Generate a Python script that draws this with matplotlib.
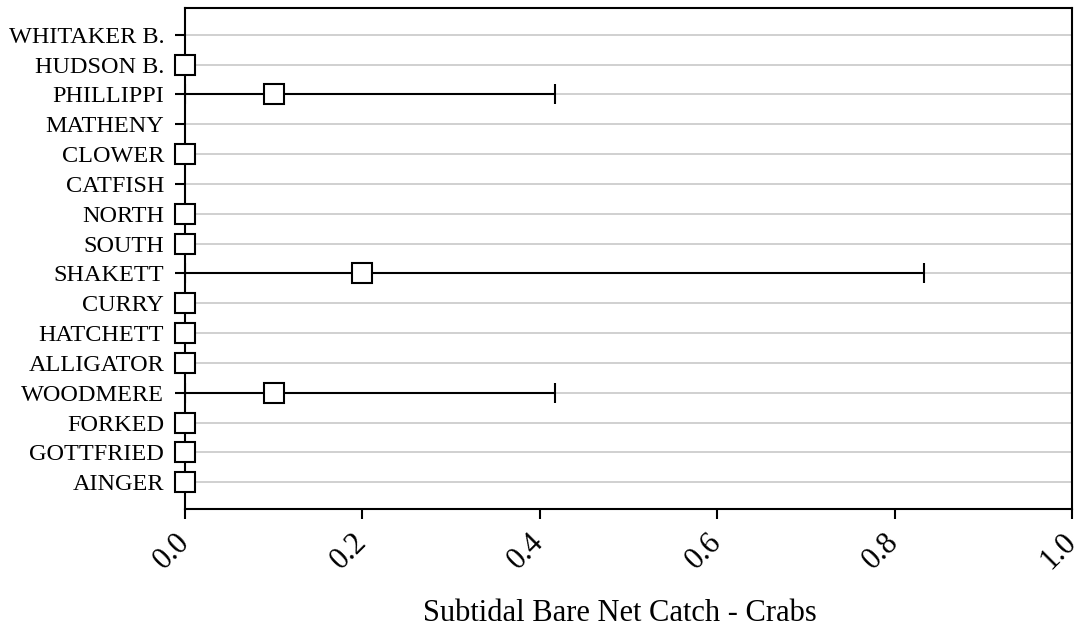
import numpy as np
import matplotlib
matplotlib.use("Agg")
import matplotlib.pyplot as plt

sites = ["WHITAKER B.", "HUDSON B.", "PHILLIPPI", "MATHENY", "CLOWER", "CATFISH",
         "NORTH", "SOUTH", "SHAKETT", "CURRY", "HATCHETT", "ALLIGATOR",
         "WOODMERE", "FORKED", "GOTTFRIED", "AINGER"]
means = [np.nan, 0.0, 0.1, np.nan, 0.0, np.nan,
         0.0, 0.0, 0.2, 0.0, 0.0, 0.0,
         0.1, 0.0, 0.0, 0.0]
upper = [np.nan, 0.0, 0.417, np.nan, 0.0, np.nan,
         0.0, 0.0, 0.833, 0.0, 0.0, 0.0,
         0.417, 0.0, 0.0, 0.0]
xticks = [0.0, 0.2, 0.4, 0.6, 0.8, 1.0]
xlabel = "Subtidal Bare Net Catch - Crabs"

plt.rcParams['font.family'] = ['Liberation Serif', 'DejaVu Serif']

fig = plt.figure(figsize=(10.86, 6.31), dpi=100)
ax = fig.add_axes([185/1086, 1 - 509/631, (1072-185)/1086, (509-8)/631])

n = len(sites)
y = np.arange(n)[::-1]
m = np.array(means, dtype=float)
u = np.array(upper, dtype=float)
has_err = (u - m) > 0

for i in range(n):
    if has_err[i]:
        ax.errorbar(m[i], y[i], xerr=[[m[i]], [u[i] - m[i]]], fmt='none',
                    ecolor='black', elinewidth=1.5, capsize=7, capthick=1.5, zorder=3)
ax.plot(m, y, linestyle='none', marker='s', markersize=14.5,
        markerfacecolor='white', markeredgecolor='black', markeredgewidth=1.5,
        zorder=4, clip_on=False)

ax.set_xlim(0, 1.0)
ax.set_ylim(-0.9, n - 0.1)
ax.set_yticks(y)
ax.set_yticklabels(sites, fontsize=17.5)
ax.set_xticks(xticks)
ax.set_xticklabels([f"{t:.1f}" for t in xticks], fontsize=22, rotation=45,
                   ha='right', va='center', rotation_mode='anchor')
ax.tick_params(axis='both', direction='out', length=7, width=1.5, color='black')
ax.tick_params(axis='y', pad=8)
ax.tick_params(axis='x', pad=14)
ax.grid(axis='y', color='#c8c8c8', linewidth=1.2, zorder=0)
ax.set_axisbelow(True)
for s in ax.spines.values():
    s.set_linewidth(1.5)
fig.text(620/1086, 1 - 621/631, xlabel, fontsize=22, ha='center', va='baseline')

fig.savefig("out.png", dpi=100)
